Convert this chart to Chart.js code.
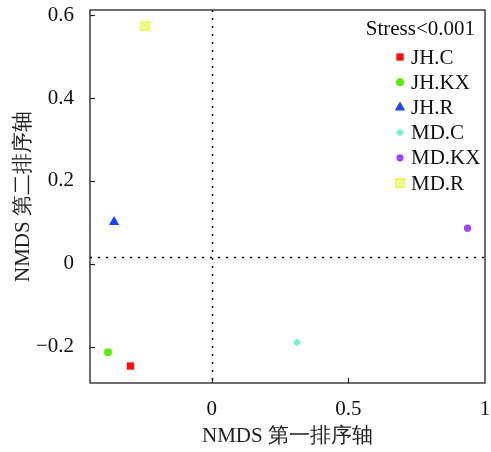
<!DOCTYPE html>
<html>
<head>
<meta charset="utf-8">
<script src="https://cdn.jsdelivr.net/npm/chart.js@4/dist/chart.umd.min.js"></script>
<style>
html,body{margin:0;padding:0;background:#fff;}
canvas{display:block;}
</style>
</head>
<body>
<canvas id="c" width="491" height="452"></canvas>
<script>
// ---- data ----
const groups = ['JH.C', 'JH.KX', 'JH.R', 'MD.C', 'MD.KX', 'MD.R'];
const nmds1 = [-0.297, -0.379, -0.357, 0.312, 0.936, -0.245];
const nmds2 = [-0.247, -0.214, 0.101, -0.190, 0.086, 0.575];
const colors = ['#ff1010', '#5aee10', '#1a44ff', '#70f5cc', '#a043f5', '#e6ff2e'];
const xTicks = [0, 0.5, 1];
const yTicks = [-0.2, 0, 0.2, 0.4, 0.6];
const refLineX = [0];
const refLineY = [0.017];
const stressText = 'Stress<0.001';

// boxed-X marker for MD.R
function boxX(color){
  const c = document.createElement('canvas'); c.width = 10; c.height = 10;
  const g = c.getContext('2d');
  g.strokeStyle = color; g.lineWidth = 1.6;
  g.strokeRect(1, 1, 8, 8);
  g.lineWidth = 1.2;
  g.beginPath(); g.moveTo(2.5,2.5); g.lineTo(7.5,7.5); g.moveTo(7.5,2.5); g.lineTo(2.5,7.5); g.stroke();
  return c;
}
const styles = [
  {pointStyle:'rect', radius:5.2},
  {pointStyle:'circle', radius:4},
  {pointStyle:'triangle', radius:6},
  {pointStyle:'rectRot', radius:4},
  {pointStyle:'circle', radius:3.6},
  {pointStyle: boxX(colors[5]), radius:5}
];

const datasets = groups.map((g,i)=>({
  label: g,
  data: [{x: nmds1[i], y: nmds2[i]}],
  backgroundColor: colors[i],
  borderColor: colors[i],
  borderWidth: 0,
  pointStyle: styles[i].pointStyle,
  pointRadius: styles[i].radius,
  pointHoverRadius: styles[i].radius
}));

const FONT = 'Liberation Serif, Times New Roman, serif';
const FS = 21;
const fmt = v => {
  const s = (Math.round(v*10)/10).toString();
  return v < 0 ? '\u2212' + s.slice(1) : s;
};

const framePlugin = {
  id: 'frame',
  beforeDatasetsDraw(chart){
    const {ctx, chartArea:a, scales:{x, y}} = chart;
    ctx.save();
    ctx.strokeStyle = '#000'; ctx.lineWidth = 1.5; ctx.setLineDash([2, 6]);
    refLineX.forEach(v=>{ const px = Math.round(x.getPixelForValue(v))+0.5;
      ctx.beginPath(); ctx.moveTo(px, a.top); ctx.lineTo(px, a.bottom); ctx.stroke(); });
    refLineY.forEach(v=>{ const py = Math.round(y.getPixelForValue(v))+0.5;
      ctx.beginPath(); ctx.moveTo(a.left, py); ctx.lineTo(a.right, py); ctx.stroke(); });
    ctx.setLineDash([]);
    ctx.restore();
  },
  afterDatasetsDraw(chart){
    const {ctx, chartArea:a, scales:{x, y}} = chart;
    ctx.save();
    ctx.strokeStyle = '#222'; ctx.lineWidth = 1.3;
    ctx.strokeRect(a.left, a.top, a.right - a.left, a.bottom - a.top);
    ctx.lineWidth = 1.2;
    xTicks.forEach(v=>{ const px = Math.round(x.getPixelForValue(v))+0.5;
      if (px > a.left+2 && px < a.right-2){ ctx.beginPath(); ctx.moveTo(px, a.bottom); ctx.lineTo(px, a.bottom-5); ctx.stroke(); }});
    yTicks.forEach(v=>{ const py = Math.round(y.getPixelForValue(v))+0.5;
      if (py > a.top+2 && py < a.bottom-2){ ctx.beginPath(); ctx.moveTo(a.left, py); ctx.lineTo(a.left+5, py); ctx.stroke(); }});
    // legend
    ctx.fillStyle = '#111';
    ctx.font = FS + 'px ' + FONT;
    ctx.textBaseline = 'middle';
    ctx.textAlign = 'right';
    ctx.fillText(stressText, a.right - 10, 29);
    ctx.textAlign = 'left';
    chart.data.datasets.forEach((ds, i)=>{
      const cy = 57 + i*25.2;
      ctx.save(); ctx.fillStyle = ds.backgroundColor; ctx.strokeStyle = ds.borderColor; ctx.lineWidth = 0.01;
      Chart.helpers.drawPoint(ctx, {pointStyle: ds.pointStyle, radius: ds.pointRadius, borderWidth: 0.01, rotation: 0}, 400, cy);
      ctx.restore();
      ctx.fillStyle = '#111';
      ctx.fillText(ds.label, 411, cy + 1);
    });
    ctx.restore();
  }
};

new Chart(document.getElementById('c'), {
  type: 'scatter',
  data: { datasets },
  plugins: [framePlugin],
  options: {
    responsive: false,
    animation: false,
    events: [],
    layout: { padding: { top: 10, right: 3, left: 0, bottom: 0 } },
    plugins: { legend: { display: false }, tooltip: { enabled: false } },
    scales: {
      x: {
        type: 'linear', min: -0.445, max: 1,
        border: { display: false },
        grid: { display: false, drawTicks: false },
        afterBuildTicks: s => { s.ticks = xTicks.map(v=>({value:v})); },
        afterFit: s => { s.height = 69; s.paddingLeft = 0; s.paddingRight = 0; },
        ticks: { color: '#111', padding: 14, maxRotation: 0, autoSkip: false,
          font: { family: FONT, size: FS }, callback: v => fmt(v) },
        title: { display: true, text: 'NMDS 第一排序轴', color: '#222',
          font: { family: FONT, size: FS }, padding: { top: 0, bottom: 3 } }
      },
      y: {
        type: 'linear', min: -0.288, max: 0.613,
        border: { display: false },
        grid: { display: false, drawTicks: false },
        afterBuildTicks: s => { s.ticks = yTicks.map(v=>({value:v})); },
        afterFit: s => { s.width = 90; s.paddingTop = 0; s.paddingBottom = 0; },
        ticks: { color: '#111', padding: 16, autoSkip: false,
          font: { family: FONT, size: FS }, callback: v => fmt(v) },
        title: { display: true, text: 'NMDS 第二排序轴', color: '#222',
          font: { family: FONT, size: FS }, padding: { top: 11, bottom: 0 } }
      }
    }
  }
});
</script>
</body>
</html>
